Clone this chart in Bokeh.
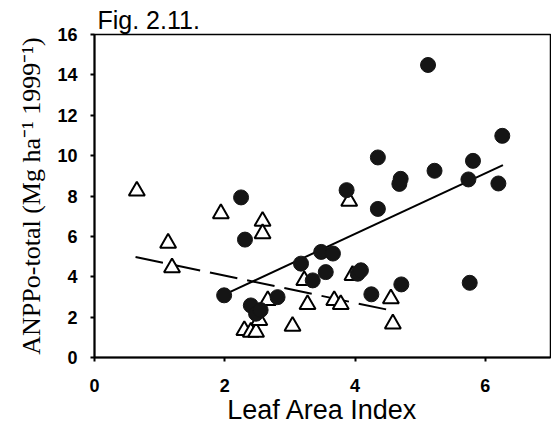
from bokeh.plotting import figure
from bokeh.models import FixedTicker, Range1d
from bokeh.embed import file_html
from bokeh.resources import INLINE

# Filled circles
circ_x = [1.99, 2.25, 2.31, 2.40, 2.48, 2.55, 2.81, 3.17, 3.35, 3.48, 3.55, 3.66, 3.87,
          4.04, 4.09, 4.25, 4.35, 4.35, 4.68, 4.70, 4.71, 5.12, 5.22, 5.74, 5.76, 5.81,
          6.20, 6.26]
circ_y = [3.08, 7.93, 5.84, 2.58, 2.17, 2.35, 2.99, 4.65, 3.82, 5.23, 4.23, 5.15, 8.29,
          4.15, 4.32, 3.13, 7.36, 9.91, 8.60, 8.85, 3.62, 14.49, 9.25, 8.82, 3.70, 9.74,
          8.62, 10.98]

# Open triangles
tri_x = [0.65, 1.13, 1.19, 1.94, 2.30, 2.40, 2.48, 2.53, 2.58, 2.58, 2.66, 3.04, 3.22,
         3.27, 3.68, 3.78, 3.91, 3.96, 4.55, 4.58]
tri_y = [8.25, 5.67, 4.45, 7.13, 1.34, 1.26, 1.26, 1.84, 6.75, 6.14, 2.83, 1.55, 3.82,
         2.63, 2.83, 2.63, 7.74, 4.07, 2.91, 1.67]

# Regression lines (end points)
fit_solid_x = [2.05, 6.27]
fit_solid_y = [3.20, 9.53]
fit_dash_x = [0.63, 4.60]
fit_dash_y = [4.98, 2.30]

x_ticks = [0, 2, 4, 6]
y_ticks = [0, 2, 4, 6, 8, 10, 12, 14, 16]

p = figure(width=551, height=430, output_backend="svg", toolbar_location=None,
           x_range=Range1d(0, 7), y_range=Range1d(0, 16),
           min_border_left=94, min_border_right=1, min_border_top=34,
           min_border_bottom=73)
p.background_fill_color = "white"
p.border_fill_color = "white"
p.outline_line_color = "black"
p.outline_line_width = 1.5
p.grid.visible = False

p.title.text = "Fig. 2.11."
p.title.text_font = "Liberation Sans"
p.title.text_font_size = "25px"
p.title.text_font_style = "normal"
p.title.text_color = "black"
p.title.align = "left"
p.title.offset = 3
p.title.standoff = 1

p.line(fit_solid_x, fit_solid_y, line_color="black", line_width=2)
p.line(fit_dash_x, fit_dash_y, line_color="black", line_width=2, line_dash="28 10")

p.scatter(tri_x, tri_y, marker="triangle", size=16, fill_color="white",
          line_color="black", line_width=2)
p.scatter(circ_x, circ_y, marker="circle", size=15, fill_color="#151515",
          line_color="#151515", line_width=1)

for ax in (p.xaxis[0], p.yaxis[0]):
    ax.axis_line_width = 2
    ax.major_tick_line_width = 2
    ax.major_tick_out = 4
    ax.major_tick_in = 0
    ax.minor_tick_out = 0
    ax.minor_tick_in = 0
    ax.major_label_text_font = "Liberation Sans"
    ax.major_label_text_font_style = "bold"
    ax.major_label_text_font_size = "18px"
    ax.major_label_text_color = "black"
    ax.axis_label_text_color = "black"

p.xaxis.ticker = FixedTicker(ticks=x_ticks)
p.yaxis.ticker = FixedTicker(ticks=y_ticks)
p.xaxis.major_label_standoff = 17
p.yaxis.major_label_standoff = 13

p.xaxis.axis_label = "Leaf Area Index"
p.xaxis.axis_label_text_font = "Liberation Sans"
p.xaxis.axis_label_text_font_style = "normal"
p.xaxis.axis_label_text_font_size = "27px"
p.xaxis.axis_label_standoff = 0

p.yaxis.axis_label = "ANPPo-total (Mg ha⁻¹ 1999⁻¹)"
p.yaxis.axis_label_text_font = "Liberation Serif"
p.yaxis.axis_label_text_font_style = "normal"
p.yaxis.axis_label_text_font_size = "26px"
p.yaxis.axis_label_standoff = 8

open("out.html", "w").write(file_html(p, INLINE))
